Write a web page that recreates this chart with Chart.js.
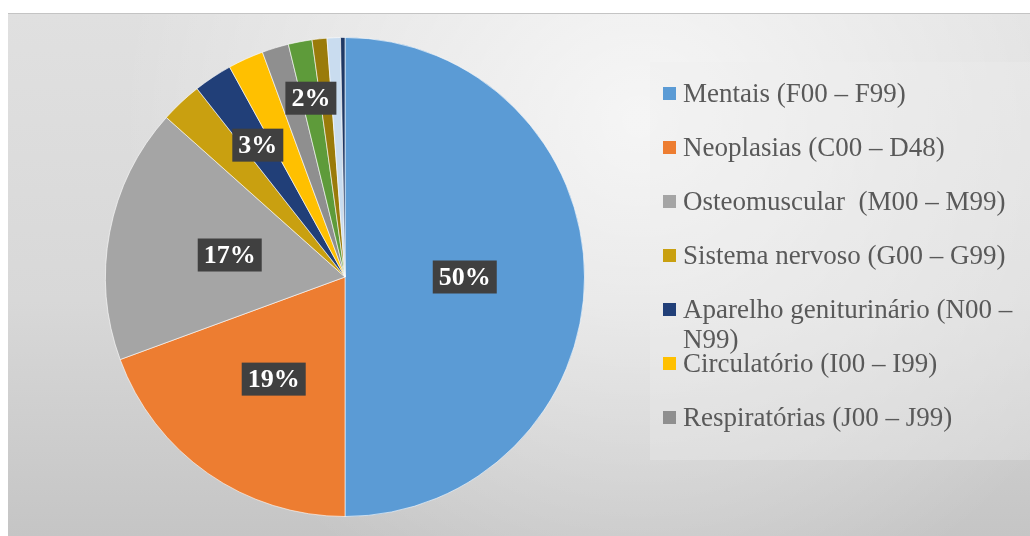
<!DOCTYPE html>
<html>
<head>
<meta charset="utf-8">
<script src="https://cdn.jsdelivr.net/npm/chart.js@4.4.1/dist/chart.umd.min.js"></script>
<style>
  html, body { margin: 0; padding: 0; background: #fff; }
  #wrap { width: 1030px; height: 536px; }
</style>
</head>
<body>
<div id="wrap"><canvas id="chart" width="1030" height="536"></canvas></div>
<script>
// slices, clockwise from 12 o'clock (percent of total)
const categories = [
    "Mentais (F00 – F99)",
    "Neoplasias (C00 – D48)",
    "Osteomuscular  (M00 – M99)",
    "Sistema nervoso (G00 – G99)",
    "Aparelho geniturinário (N00 – N99)",
    "Circulatório (I00 – I99)",
    "Respiratórias (J00 – J99)",
    "Outros 1",
    "Outros 2",
    "Outros 3",
    "Outros 4",
]
const values = [50, 19.4, 17.2, 2.8, 2.6, 2.4, 1.8, 1.6, 1.0, 0.9, 0.3]
const sliceColors = [
    "#5B9BD5", "#ED7D31", "#A5A5A5", "#C9A010", "#213F78",
    "#FFC000", "#8F8F8F", "#5E9B3A", "#9A7B0A", "#C9DCEF", "#1F3864",
]
// only these slices carry a percentage label in the original
const labelledSlices = [0, 1, 2, 4, 7]
// the legend only shows the first seven entries
const legendCount = 7

const labelRadius = { 0: 0.5, 1: 0.52, 2: 0.49, 4: 0.66, 7: 0.76 }

const backgroundPlugin = {
    id: "background",
    beforeDraw(chart) {
        const { ctx, width, height } = chart
        ctx.save()
        ctx.fillStyle = "#ffffff"
        ctx.fillRect(0, 0, width, height)

        const lin = ctx.createLinearGradient(0, 13, 0, height)
        lin.addColorStop(0, "#e0e0e0")
        lin.addColorStop(0.55, "#d8d8d8")
        lin.addColorStop(1, "#c5c5c5")
        ctx.fillStyle = lin
        ctx.fillRect(8, 13, width - 8, height - 13)

        const rad = ctx.createRadialGradient(640, 120, 10, 640, 120, 520)
        rad.addColorStop(0, "rgba(255,255,255,0.7)")
        rad.addColorStop(1, "rgba(255,255,255,0)")
        ctx.fillStyle = rad
        ctx.fillRect(8, 13, width - 8, height - 13)

        // slightly lighter block behind the legend
        ctx.fillStyle = "rgba(240,240,240,0.3)"
        ctx.fillRect(650, 62, width - 650, 398)

        ctx.strokeStyle = "#c4c4c4"
        ctx.lineWidth = 1
        ctx.beginPath()
        ctx.moveTo(8, 13.5)
        ctx.lineTo(width, 13.5)
        ctx.stroke()
        ctx.restore()
    },
}

const sliceLabelPlugin = {
    id: "sliceLabels",
    afterDatasetsDraw(chart) {
        const { ctx } = chart
        const meta = chart.getDatasetMeta(0)
        const total = values.reduce((a, b) => a + b, 0)
        ctx.save()
        ctx.font = "bold 26px 'Liberation Serif', 'Times New Roman', serif"
        ctx.textAlign = "center"
        ctx.textBaseline = "middle"
        labelledSlices.forEach((i) => {
            const arc = meta.data[i]
            const p = arc.getProps(["x", "y", "startAngle", "endAngle", "outerRadius"], true)
            const mid = (p.startAngle + p.endAngle) / 2
            const r = p.outerRadius * (labelRadius[i] || 0.5)
            const x = p.x + Math.cos(mid) * r
            const y = p.y + Math.sin(mid) * r
            const text = Math.round((values[i] / total) * 100) + "%"
            const w = ctx.measureText(text).width + 12
            const h = 33
            ctx.fillStyle = "#404040"
            ctx.fillRect(x - w / 2, y - h / 2, w, h)
            ctx.fillStyle = "#ffffff"
            ctx.fillText(text, x, y + 1)
        })
        ctx.restore()
    },
}

const legendPlugin = {
    id: "sideLegend",
    afterDraw(chart) {
        const { ctx } = chart
        const colors = chart.data.datasets[0].backgroundColor
        const left = 663
        const textX = 683
        const maxWidth = 345
        ctx.save()
        ctx.font = "27px 'Liberation Serif', 'Times New Roman', serif"
        ctx.textBaseline = "middle"
        for (let i = 0; i < legendCount; i++) {
            const y = 95 + i * 54
            ctx.fillStyle = colors[i]
            ctx.fillRect(left, y - 8, 13, 13)

            // simple word wrap, like the original legend
            const words = chart.data.labels[i].split(" ")
            const lines = []
            let line = ""
            words.forEach((word) => {
                const test = line ? line + " " + word : word
                if (ctx.measureText(test).width > maxWidth && line) {
                    lines.push(line)
                    line = word
                } else {
                    line = test
                }
            })
            lines.push(line)

            ctx.fillStyle = "#595959"
            lines.forEach((l, k) => {
                ctx.fillText(l, textX, y + k * 30)
            })
        }
        ctx.restore()
    },
}

const chart = new Chart(document.getElementById("chart"), {
    type: "pie",
    data: {
        labels: categories,
        datasets: [
            {
                data: values,
                backgroundColor: sliceColors,
                borderColor: "rgba(255,255,255,0.6)",
                borderWidth: 1,
            },
        ],
    },
    options: {
        responsive: false,
        animation: false,
        layout: {
            padding: { top: 37, bottom: 19, left: 105, right: 445 },
        },
        plugins: {
            legend: { display: false },
            tooltip: { enabled: false },
        },
    },
    plugins: [backgroundPlugin, sliceLabelPlugin, legendPlugin],
})
</script>
</body>
</html>
